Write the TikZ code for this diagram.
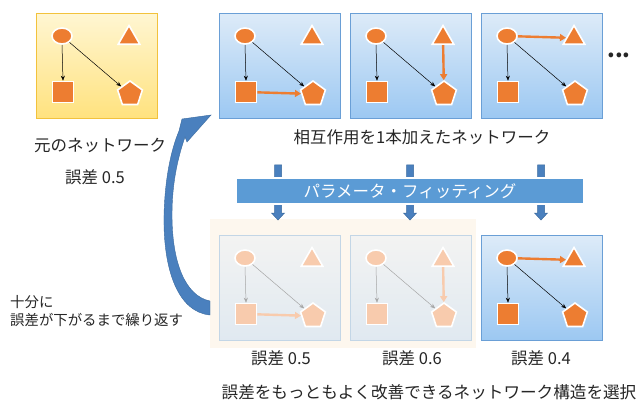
\documentclass[tikz,border=0pt]{standalone}
\usepackage{fontspec}
\setmainfont{Noto Sans CJK JP}
\usetikzlibrary{shapes.geometric,shadows,arrows.meta}
\definecolor{org}{HTML}{ED7D31}
\definecolor{orgfade}{HTML}{F8CBAD}
\definecolor{txt}{HTML}{262626}
\definecolor{bluetop}{HTML}{DDEBF8}
\definecolor{bluebot}{HTML}{9CC8F2}
\definecolor{blueline}{HTML}{6A9FD6}
\definecolor{yeltop}{HTML}{FFF6D2}
\definecolor{yelbot}{HTML}{FFE27E}
\definecolor{yelline}{HTML}{F2C23C}
\definecolor{fadetop}{HTML}{F3F3F2}
\definecolor{fadebot}{HTML}{E0E9F1}
\definecolor{fadeline}{HTML}{C3D6E6}
\definecolor{barblue}{HTML}{5B9BD5}
\definecolor{arrblue}{HTML}{4A80BE}
\definecolor{arrline}{HTML}{3A6A9F}
\definecolor{cream}{HTML}{FDF7EE}
\tikzset{
  panelbox/.style={draw=#1line, line width=0.8pt, top color=#1top, bottom color=#1bot,
    minimum width=121pt, minimum height=105pt, anchor=north west, inner sep=0pt,
    drop shadow={shadow xshift=1pt, shadow yshift=-1pt, opacity=0.25}},
  netshape/.style={inner sep=0pt, line width=1.6pt, draw=white},
  circ/.style={netshape, ellipse, minimum width=20pt, minimum height=16pt},
  tri/.style={netshape, regular polygon, regular polygon sides=3, minimum size=25pt},
  sq/.style={netshape, rectangle, minimum size=21pt},
  pent/.style={netshape, regular polygon, regular polygon sides=5, minimum size=26pt},
  thinarr/.style={-{Stealth[length=5pt,width=4pt]}, line width=0.5pt},
  thickarr/.style={-{Triangle[length=6pt,width=7pt]}, line width=2.4pt},
  lbl/.style={text=txt, font=\fontsize{16.5}{16.5}\selectfont, inner sep=0pt},
  downarr/.style={fill=arrblue, draw=arrline, line width=0.5pt},
}
% #1 name, #2 left, #3 top, #4 box colour prefix, #5 shape colour
\newcommand\netpanel[5]{%
  \node[panelbox=#4] (#1) at (#2,#3) {};
  \node[circ, fill=#5] (#1c) at (#2+26,#3+23) {};
  \node[tri, fill=#5] (#1t) at (#2+93,#3+25) {};
  \node[sq, fill=#5] (#1s) at (#2+27,#3+79) {};
  \node[pent, fill=#5] (#1p) at (#2+94,#3+81) {};
}
\newcommand\blockdown[1]{%
  \draw[downarr] (#1-3.5,165) -- (#1+3.5,165) -- (#1+3.5,213) -- (#1+6.5,213)
    -- (#1,220) -- (#1-6.5,213) -- (#1-3.5,213) -- cycle;
}
\begin{document}
\begin{tikzpicture}[x=1pt,y=-1pt]
\useasboundingbox (0,0) rectangle (644,403);
\fill[white] (0,0) rectangle (644,403);

% faded background
\fill[cream] (210,219) rectangle (476,348);

% top row
\netpanel{Y}{36}{13}{yel}{org}
\draw[thinarr] (Yc.south) -- (Ys.north);
\draw[thinarr] (Yc) -- (Yp);

\netpanel{A}{219}{13}{blue}{org}
\draw[thinarr] (Ac.south) -- (As.north);
\draw[thinarr] (Ac) -- (Ap);
\draw[thickarr, org] (As) -- (Ap);

\netpanel{B}{350}{13}{blue}{org}
\draw[thinarr] (Bc.south) -- (Bs.north);
\draw[thinarr] (Bc) -- (Bp);
\draw[thickarr, org] (Bt) -- (Bp);

\netpanel{C}{481}{13}{blue}{org}
\draw[thinarr] (Cc.south) -- (Cs.north);
\draw[thinarr] (Cc) -- (Cp);
\draw[thickarr, org] (Cc) -- (Ct);

\node[text=txt, font=\bfseries\fontsize{22}{22}\selectfont, inner sep=0pt] (dots) at (619,55) {...};

% labels top
\node[lbl] (l0) at (100,145) {元のネットワーク};
\node[lbl] (e0) at (95,177) {誤差 0.5};
\node[lbl] (l1) at (422,137) {相互作用を1本加えたネットワーク};

% down arrows and bar
\blockdown{278}
\blockdown{410}
\blockdown{541}
\node[fill=barblue, draw=white, line width=2pt, minimum width=348pt, minimum height=26pt,
  inner sep=0pt, text=white, font=\fontsize{16.5}{16.5}\selectfont,
  drop shadow={shadow xshift=1pt, shadow yshift=-1pt, opacity=0.3}] (bar) at (410,191)
  {パラメータ・フィッティング};

% bottom row
\netpanel{D}{219}{235}{fade}{orgfade}
\draw[thinarr, gray!70] (Dc.south) -- (Ds.north);
\draw[thinarr, gray!70] (Dc) -- (Dp);
\draw[thickarr, orgfade] (Ds) -- (Dp);

\netpanel{E}{350}{235}{fade}{orgfade}
\draw[thinarr, gray!70] (Ec.south) -- (Es.north);
\draw[thinarr, gray!70] (Ec) -- (Ep);
\draw[thickarr, orgfade] (Et) -- (Ep);

\netpanel{F}{481}{235}{blue}{org}
\draw[thinarr] (Fc.south) -- (Fs.north);
\draw[thinarr] (Fc) -- (Fp);
\draw[thickarr, org] (Fc) -- (Ft);

\node[lbl] (e1) at (281,358) {誤差 0.5};
\node[lbl] (e2) at (412,358) {誤差 0.6};
\node[lbl] (e3) at (541,358) {誤差 0.4};
\node[lbl, font=\fontsize{16.6}{16.6}\selectfont] (sel) at (429,392) {誤差をもっともよく改善できるネットワーク構造を選択};

\node[lbl, anchor=west, font=\fontsize{14.4}{14.4}\selectfont] (rep1) at (10,302) {十分に};
\node[lbl, anchor=west, font=\fontsize{14.4}{14.4}\selectfont] (rep2) at (10,320) {誤差が下がるまで繰り返す};

% curved loop arrow
\filldraw[fill=arrblue, draw=arrline, line width=0.4pt]
  (210,315) .. controls (178,312) and (163,270) .. (164,215)
  .. controls (165,178) and (171,150) .. (179,131)
  -- (182,119) -- (211,115) -- (187,142) -- (185,137)
  .. controls (177,160) and (172,185) .. (172,215)
  .. controls (172,262) and (185,296) .. (210,301) -- cycle;
\end{tikzpicture}
\end{document}
